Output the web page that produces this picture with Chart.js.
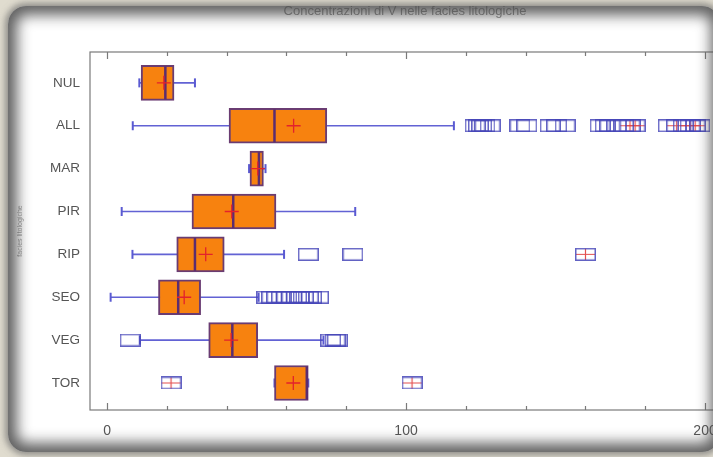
<!DOCTYPE html>
<html>
<head>
<meta charset="utf-8">
<script src="https://cdn.jsdelivr.net/npm/chart.js@4"></script>
<style>
  html, body { margin: 0; padding: 0; width: 713px; height: 457px; overflow: hidden; background: #e0dccf; }
  #wrap { position: absolute; left: 0; top: 0; width: 713px; height: 457px; overflow: hidden; background: #fff; }
  #c { position: absolute; left: 0; top: 0; }
  /* photo frame laid over the chart */
  #frame {
    position: absolute; left: 8px; top: 6px; width: 712px; height: 446px;
    border-radius: 18px; pointer-events: none;
    box-shadow: inset 0 0 14px 9px rgba(75,75,75,0.88),
                0 0 6px 3px rgba(110,110,110,0.7),
                0 0 0 80px #e0dccf;
  }
</style>
</head>
<body>
<div id="wrap">
  <canvas id="c" width="830" height="457"></canvas>
  <div id="frame"></div>
</div>
<script>
// ========== DATA ==========
const CATS = ['NUL', 'ALL', 'MAR', 'PIR', 'RIP', 'SEO', 'VEG', 'TOR'];
const WHISK_LO = [10.8, 8.6, 47.5, 4.9, 8.5, 1.2, 11.0, 56.0];
const Q1       = [11.4, 40.8, 47.8, 28.4, 23.3, 17.2, 34.0, 56.0];
const MEDIAN   = [19.5, 56.0, 50.8, 42.2, 29.4, 23.8, 41.9, 66.8];
const Q3       = [22.4, 73.5, 52.3, 56.5, 39.2, 31.3, 50.4, 67.3];
const WHISK_HI = [29.4, 116.0, 53.0, 83.0, 59.2, 50.7, 72.4, 67.3];
const MEAN     = [19.0, 62.4, 50.4, 41.7, 33.0, 25.8, 41.5, 62.3];

// outliers per category (same order as CATS)
const OUTLIERS = [
    [],
    [123.1, 124.2, 125.3, 126.4, 128.1, 138.1, 140.4, 148.2, 150.4, 153.2,
     164.9, 166.6, 168.2, 170.5, 172.7, 187.7, 192.7, 198.3],
    [],
    [],
    [67.3, 82.2],
    [53.4, 55.1, 56.8, 58.4, 60.1, 61.8, 63.4, 64.5, 65.6, 67.3, 68.4, 70.7],
    [7.7, 74.8, 76.3, 77.0],
    []
];
// outliers drawn with a red cross inside
const OUTLIERS_MARKED = [
    [],
    [174.9, 176.6, 190.5, 195.0, 196.7],
    [],
    [],
    [160.0],
    [],
    [],
    [21.4, 102.0]
];
const X_TICKS = [0, 100, 200];
const X_MINOR = [0, 20, 40, 60, 80, 100, 120, 140, 160, 180, 200];

const TITLE = 'Concentrazioni di V nelle facies litologiche';
const Y_TITLE = 'facies litologiche';

// ========== MARKERS ==========
function outlierMark(cross) {
    const cv = document.createElement('canvas');
    cv.width = 21; cv.height = 13;
    const g = cv.getContext('2d');
    if (cross) {
        g.strokeStyle = 'rgba(225,60,60,0.9)';
        g.lineWidth = 1.2;
        g.beginPath();
        g.moveTo(1, 6.5); g.lineTo(20, 6.5);
        g.moveTo(10.5, 1); g.lineTo(10.5, 12);
        g.stroke();
    }
    g.strokeStyle = 'rgba(70,70,185,0.85)';
    g.lineWidth = 1.5;
    g.strokeRect(0.75, 0.75, 19.5, 11.5);
    return cv;
}

const pts = (arr) => arr.map((v, i) => ({ x: v, y: i }));
const flat = (lists) => lists.flatMap((l, i) => l.map(v => ({ x: v, y: i })));

// inward tick marks + plot frame
const framePlugin = {
    id: 'framePlugin',
    afterDatasetsDraw(chart) {
        const { ctx, chartArea: a, scales: { x } } = chart;
        ctx.save();
        ctx.strokeStyle = '#7a7a7a';
        ctx.lineWidth = 1.2;
        ctx.strokeRect(a.left, a.top, a.right - a.left, a.bottom - a.top);
        ctx.beginPath();
        X_MINOR.forEach(v => {
            const px = Math.round(x.getPixelForValue(v)) + 0.5;
            const len = X_TICKS.includes(v) ? 7 : 4;
            ctx.moveTo(px, a.bottom); ctx.lineTo(px, a.bottom - len);
            ctx.moveTo(px, a.top); ctx.lineTo(px, a.top + len);
        });
        ctx.stroke();
        ctx.restore();
    }
};

const FONT = "'Liberation Sans', Arial, sans-serif";

new Chart(document.getElementById('c'), {
    type: 'bar',
    data: {
        datasets: [
            { type: 'scatter', label: 'mean', data: pts(MEAN), order: 1,
              pointStyle: 'cross', radius: 7, borderColor: '#e3222c', borderWidth: 1.3 },
            { type: 'scatter', label: 'median', data: pts(MEDIAN), order: 2,
              pointStyle: 'line', rotation: 90, radius: 16.5, borderColor: '#5b2d70', borderWidth: 2.5 },
            { type: 'scatter', label: 'outliers', data: flat(OUTLIERS), order: 2,
              pointStyle: outlierMark(false), radius: 10 },
            { type: 'scatter', label: 'outliers marked', data: flat(OUTLIERS_MARKED), order: 2,
              pointStyle: outlierMark(true), radius: 10 },
            { label: 'box', data: CATS.map((c, i) => ({ x: [Q1[i], Q3[i]], y: i })), order: 3,
              grouped: false, barThickness: 35, backgroundColor: '#f7820f',
              borderColor: '#6a3c72', borderWidth: 2, borderSkipped: false },
            { type: 'scatter', label: 'caps',
              data: [...pts(WHISK_LO), ...pts(WHISK_HI)], order: 4,
              pointStyle: 'line', rotation: 90, radius: 4.5, borderColor: '#5a5ad2', borderWidth: 2 },
            { label: 'whisker', data: CATS.map((c, i) => ({ x: [WHISK_LO[i], WHISK_HI[i]], y: i })), order: 5,
              grouped: false, barThickness: 1, backgroundColor: '#6262d4', borderWidth: 0 }
        ]
    },
    options: {
        indexAxis: 'y',
        responsive: false,
        animation: false,
        layout: { padding: { left: 0, right: 20, top: 0, bottom: 0 } },
        plugins: {
            legend: { display: false },
            tooltip: { enabled: false },
            title: {
                display: true, text: TITLE, color: '#8a8a8a',
                font: { family: FONT, size: 13, weight: 'normal' },
                padding: { top: 4, bottom: 32.4 }
            }
        },
        scales: {
            x: {
                type: 'linear', min: -5.7, max: 235.1, offset: false,
                grid: { display: false }, border: { display: false },
                afterBuildTicks: s => { s.ticks = X_TICKS.map(v => ({ value: v })); },
                afterFit: s => { s.height = 47; },
                ticks: { color: '#555', padding: 5, font: { family: FONT, size: 14 } }
            },
            y: {
                type: 'linear', min: -0.72, max: 7.63, reverse: true, offset: false,
                grid: { display: false }, border: { display: false },
                afterBuildTicks: s => { s.ticks = CATS.map((c, i) => ({ value: i })); },
                afterFit: s => { s.width = 90; },
                ticks: { color: '#555', padding: 2, callback: v => CATS[v],
                         font: { family: FONT, size: 13.5 } },
                title: { display: true, text: Y_TITLE, color: '#9a9a9a', padding: { top: 16, bottom: 0 },
                         font: { family: FONT, size: 7 } }
            }
        }
    },
    plugins: [framePlugin]
});
</script>
</body>
</html>
